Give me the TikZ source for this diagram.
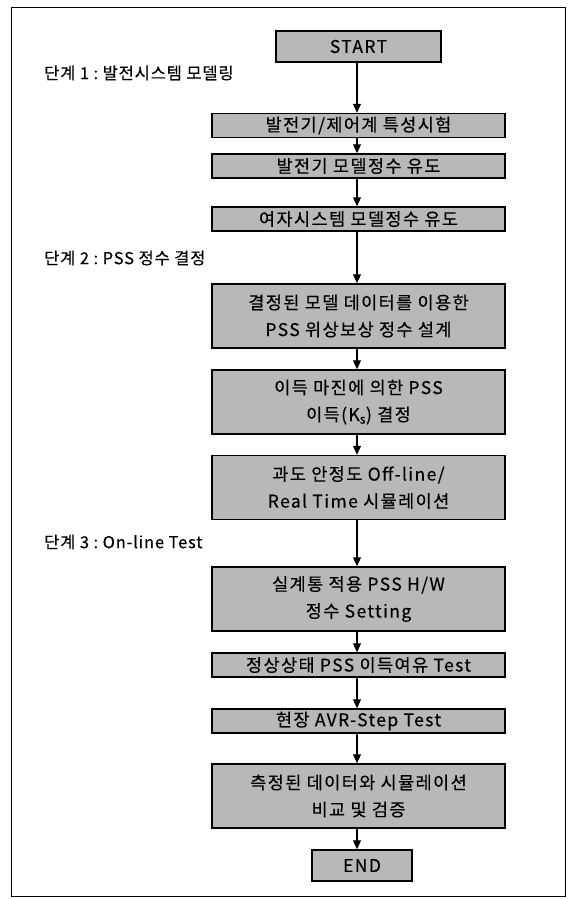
\documentclass[tikz,border=0pt]{standalone}
\usepackage{fontspec}
\setmainfont{Noto Sans CJK KR}
\newfontfamily\boxfont{Noto Sans CJK KR}[LetterSpace=8,FakeBold=0.4]
\newfontfamily\labfont{Noto Sans CJK KR}[LetterSpace=5,FakeBold=0.3]
\usetikzlibrary{arrows.meta}
\begin{document}
\begin{tikzpicture}[x=1pt,y=-1pt,
  box/.style={draw=black,line width=1.5pt,fill=black!28,minimum width=293pt,minimum height=24pt,inner sep=0pt,align=center,font=\boxfont\fontsize{17.5}{27}\selectfont},
  tall/.style={box,minimum height=64pt},
  term/.style={box,minimum height=31pt},
  lab/.style={anchor=west,inner sep=0pt,font=\labfont\fontsize{16.5}{20}\selectfont},
  arr/.style={line width=1.1pt,-{Triangle[width=8pt,length=9pt]}}]
\useasboundingbox (0,0) rectangle (570,899);
\draw[line width=0.9pt] (11,7) rectangle (565,896);
\coordinate (flow) at (357,0);
\node[term,minimum width=165pt] (start) at (358.5,46.5) {START};
\node[lab] (l1) at (44,73) {단계 1\ :\ 발전시스템\ 모델링};
\node[box] (b2) at (358.5,125.5) {발전기/제어계 특성시험};
\node[box] (b3) at (358.5,166) {발전기 모델정수 유도};
\node[box] (b4) at (358.5,219) {여자시스템 모델정수 유도};
\node[lab] (l2) at (44,258) {단계 2\ :\ PSS 정수 결정};
\node[tall] (b5) at (358.5,316) {결정된 모델 데이터를 이용한\\PSS 위상보상 정수 설계};
\node[tall] (b6) at (358.5,402) {이득 마진에 의한 PSS\\이득(K\textsubscript{s}) 결정};
\node[tall] (b7) at (358.5,487.5) {과도 안정도 Off-line/\\Real Time 시뮬레이션};
\node[lab] (l3) at (44,542) {단계 3\ :\ On-line Test};
\node[tall] (b8) at (358.5,599) {실계통 적용 PSS H/W\\정수 Setting};
\node[box] (b9) at (358.5,665) {정상상태 PSS 이득여유 Test};
\node[box] (b10) at (358.5,721) {현장 AVR-Step Test};
\node[tall] (b11) at (358.5,796) {측정된 데이터와 시뮬레이션\\비교 및 검증};
\node[term,minimum width=100pt] (end) at (362,865.5) {END};
\foreach \a/\b in {start/b2,b2/b3,b3/b4,b4/b5,b5/b6,b6/b7,b7/b8,b8/b9,b9/b10,b10/b11,b11/end}
  \draw[arr] (\a.south -| flow) -- (\b.north -| flow);
\end{tikzpicture}
\end{document}
